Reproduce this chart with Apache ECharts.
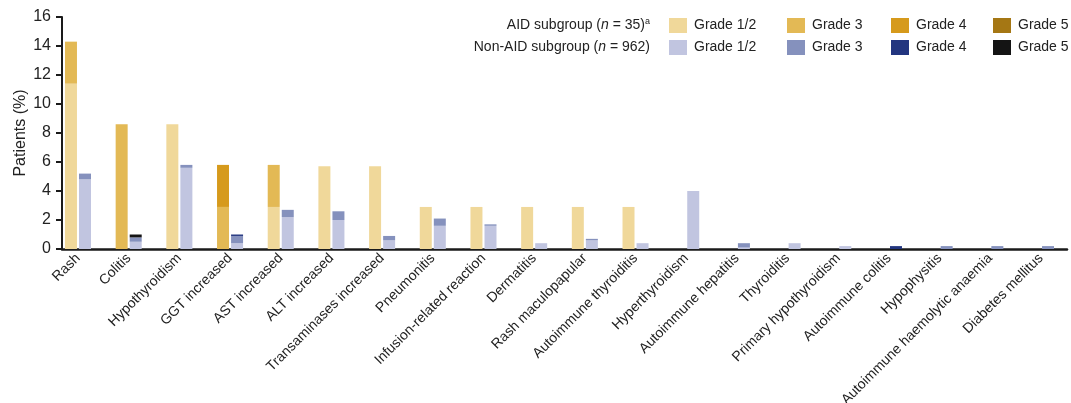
<!DOCTYPE html>
<html><head><meta charset="utf-8">
<script src="https://cdn.jsdelivr.net/npm/echarts@6/dist/echarts.min.js"></script>
<style>html,body{margin:0;padding:0;background:#fff}#c{width:1071px;height:403px}</style>
</head><body><div id="c"></div>
<script>
var categories = ['Rash','Colitis','Hypothyroidism','GGT increased','AST increased','ALT increased','Transaminases increased','Pneumonitis','Infusion-related reaction','Dermatitis','Rash maculopapular','Autoimmune thyroiditis','Hyperthyroidism','Autoimmune hepatitis','Thyroiditis','Primary hypothyroidism','Autoimmune colitis','Hypophysitis','Autoimmune haemolytic anaemia','Diabetes mellitus'];
// AID subgroup (n = 35)
var aidG12 = [11.4, 0, 8.6, 0, 2.9, 5.7, 5.7, 2.9, 2.9, 2.9, 2.9, 2.9, 0, 0, 0, 0, 0, 0, 0, 0];
var aidG3  = [2.9, 8.6, 0, 2.9, 2.9, 0, 0, 0, 0, 0, 0, 0, 0, 0, 0, 0, 0, 0, 0, 0];
var aidG4  = [0, 0, 0, 2.9, 0, 0, 0, 0, 0, 0, 0, 0, 0, 0, 0, 0, 0, 0, 0, 0];
var aidG5  = [0, 0, 0, 0, 0, 0, 0, 0, 0, 0, 0, 0, 0, 0, 0, 0, 0, 0, 0, 0];
// Non-AID subgroup (n = 962)
var nonG12 = [4.8, 0.5, 5.6, 0.4, 2.2, 2.0, 0.6, 1.6, 1.6, 0.4, 0.6, 0.4, 4.0, 0.1, 0.4, 0.2, 0, 0, 0, 0];
var nonG3  = [0.4, 0.3, 0.2, 0.5, 0.5, 0.6, 0.3, 0.5, 0.1, 0, 0.1, 0, 0, 0.3, 0, 0, 0, 0.2, 0.2, 0.2];
var nonG4  = [0, 0, 0, 0.1, 0, 0, 0, 0, 0, 0, 0, 0, 0, 0, 0, 0, 0.2, 0, 0, 0];
var nonG5  = [0, 0.2, 0, 0, 0, 0, 0, 0, 0, 0, 0, 0, 0, 0, 0, 0, 0, 0, 0, 0];
var yTicks = [0, 2, 4, 6, 8, 10, 12, 14, 16];

var FONT = "'Liberation Sans', Arial, sans-serif";
var TXT = '#222';
var colors = {
  'AID Grade 1/2':'#F0D89A','AID Grade 3':'#E3B955','AID Grade 4':'#D69A1C','AID Grade 5':'#A57714',
  'Non-AID Grade 1/2':'#C1C5E0','Non-AID Grade 3':'#8591BD','Non-AID Grade 4':'#22357F','Non-AID Grade 5':'#141414'
};
function s(name, stack, data){
  return {name:name, type:'bar', stack:stack, xAxisIndex:0, yAxisIndex:0, data:data,
    barWidth:12, barGap:'17%', itemStyle:{color:colors[name]}, emphasis:{disabled:true}};
}
function col(left, names){
  return {orient:'vertical', left:left, top:18, padding:0, itemGap:7, itemWidth:18, itemHeight:15,
    icon:'rect', data:names, selectedMode:false,
    formatter:function(n){return n.replace(/^(Non-AID|AID) /,'');},
    textStyle:{fontFamily:FONT, fontSize:14, color:TXT, lineHeight:15, padding:[0,0,0,2]}};
}
var chart = echarts.init(document.getElementById('c'), null, {renderer:'canvas'});
chart.setOption({
  animation:false,
  backgroundColor:'#fff',
  textStyle:{fontFamily:FONT},
  title:[
    {text:'AID subgroup ({i|n} = 35){sup|a}', right:421, top:17.5, padding:0,
     textStyle:{fontFamily:FONT, fontSize:14, fontWeight:'normal', color:TXT, lineHeight:16,
       rich:{i:{fontFamily:FONT, fontSize:14, fontStyle:'italic', color:TXT},
             sup:{fontFamily:FONT, fontSize:9, color:TXT, verticalAlign:'top', lineHeight:9}}}},
    {text:'Non-AID subgroup ({i|n} = 962)', right:421, top:39.5, padding:0,
     textStyle:{fontFamily:FONT, fontSize:14, fontWeight:'normal', color:TXT, lineHeight:16,
       rich:{i:{fontFamily:FONT, fontSize:14, fontStyle:'italic', color:TXT}}}}
  ],
  legend:[
    col(669, ['AID Grade 1/2','Non-AID Grade 1/2']),
    col(787, ['AID Grade 3','Non-AID Grade 3']),
    col(891, ['AID Grade 4','Non-AID Grade 4']),
    col(993, ['AID Grade 5','Non-AID Grade 5'])
  ],
  grid:[
    {left:52.65, right:4.65, top:17, height:232, outerBoundsMode:'none', containLabel:false},
    {left:62, right:4, top:17, height:232, outerBoundsMode:'none', containLabel:false}
  ],
  xAxis:[
    {type:'category', gridIndex:0, data:categories, boundaryGap:true,
     axisLine:{show:false}, axisTick:{show:false},
     axisLabel:{interval:0, rotate:45, margin:7, fontFamily:FONT, fontSize:14, color:TXT}},
    {type:'value', gridIndex:1, min:0, max:1, show:true,
     axisLine:{show:true, onZero:false, lineStyle:{color:'#1a1a1a', width:2.5}},
     axisTick:{show:false}, axisLabel:{show:false}, splitLine:{show:false}}
  ],
  yAxis:[
    {type:'value', gridIndex:0, min:0, max:16, interval:2, show:false},
    {type:'value', gridIndex:1, min:0, max:16, interval:2,
     name:'Patients (%)', nameLocation:'middle', nameGap:33, nameRotate:90, nameMoveOverlap:false,
     nameTextStyle:{fontFamily:FONT, fontSize:16, color:TXT},
     axisLine:{show:true, lineStyle:{color:'#1a1a1a', width:2}},
     axisTick:{show:true, length:6, lineStyle:{color:'#1a1a1a', width:2}},
     axisLabel:{margin:11, fontFamily:FONT, fontSize:16, color:TXT,
       formatter:function(v){return yTicks.indexOf(v) >= 0 ? String(v) : '';}},
     splitLine:{show:false}}
  ],
  series:[
    s('AID Grade 1/2','aid',aidG12), s('AID Grade 3','aid',aidG3), s('AID Grade 4','aid',aidG4), s('AID Grade 5','aid',aidG5),
    s('Non-AID Grade 1/2','non',nonG12), s('Non-AID Grade 3','non',nonG3), s('Non-AID Grade 4','non',nonG4), s('Non-AID Grade 5','non',nonG5)
  ]
});
</script></body></html>
